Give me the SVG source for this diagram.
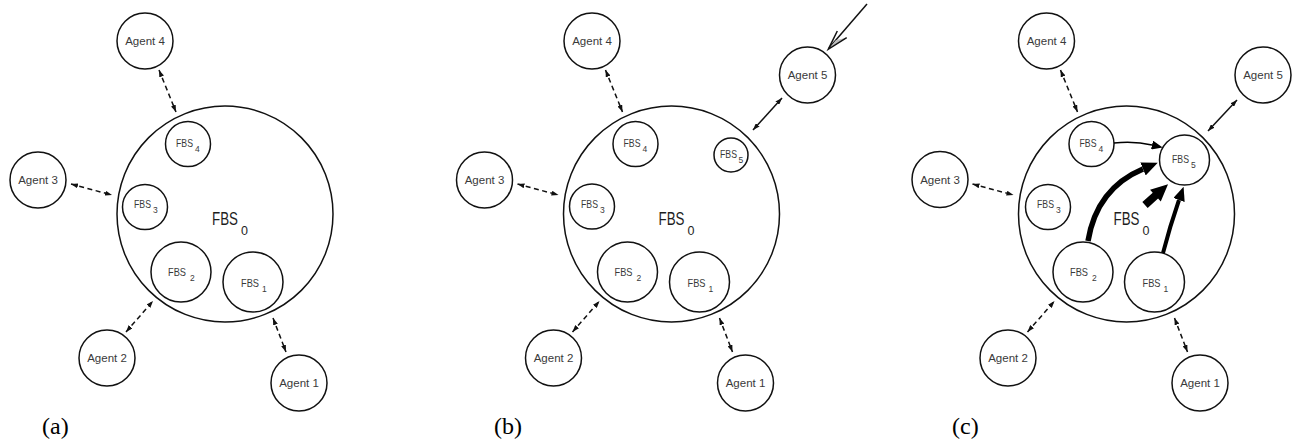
<svg xmlns="http://www.w3.org/2000/svg" width="1299" height="445" viewBox="0 0 1299 445">
  <style>
    .c { fill: #fff; stroke: #111; stroke-width: 1.5; }
    .ag { font-family: "Liberation Sans", Arial, sans-serif; font-size: 11.5px; fill: #3a3a3a; text-anchor: middle; }
    .fs { font-family: "Liberation Sans", Arial, sans-serif; font-size: 11.5px; fill: #3a3a3a; }
    .fsub { font-size: 8.5px; }
    .big { font-family: "Liberation Sans", Arial, sans-serif; font-size: 18px; fill: #1e1e1e; }
    .bigsub { font-size: 12.5px; }
    .lab { font-family: "Liberation Serif", "Times New Roman", serif; font-size: 24px; fill: #000; }
    .dash { fill: none; stroke: #111; stroke-width: 1.5; stroke-dasharray: 5 3.5; marker-start: url(#sm); marker-end: url(#sm); }
    .solid2 { fill: none; stroke: #111; stroke-width: 1.5; marker-start: url(#sm); marker-end: url(#sm); }
  </style>
  <defs>
    <!-- small double-ended arrowhead -->
    <marker id="sm" viewBox="0 0 7 5" refX="7" refY="2.5" markerWidth="7" markerHeight="5" markerUnits="userSpaceOnUse" orient="auto-start-reverse">
      <path d="M0,0 L7,2.5 L0,5 Z" fill="#111"/>
    </marker>
    <!-- heads placed with their base on the path end -->
    <marker id="hThin" viewBox="0 -4.5 11 9" refX="0" refY="0" markerWidth="11" markerHeight="9" markerUnits="userSpaceOnUse" orient="auto">
      <path d="M0,-4.5 L11,0 L0,4.5 Z" fill="#000"/>
    </marker>
    <marker id="hMid" viewBox="0 -6 14 12" refX="0" refY="0" markerWidth="14" markerHeight="12" markerUnits="userSpaceOnUse" orient="auto">
      <path d="M0,-6 L14,0 L0,6 Z" fill="#000"/>
    </marker>
    <marker id="hBig" viewBox="0 -7 16 14" refX="0" refY="0" markerWidth="16" markerHeight="14" markerUnits="userSpaceOnUse" orient="auto">
      <path d="M0,-7 L16,0 L0,7 Z" fill="#000"/>
    </marker>
  </defs>

  <rect width="1299" height="445" fill="#fff"/>

  <!-- ===== (a) ===== -->
  <g id="panel-a">
    <g id="a-connectors">
      <path class="dash" d="M159,70 L176,112"/>
      <path class="dash" d="M71,184 L112,195"/>
      <path class="dash" d="M126,332 L153,301"/>
      <path class="dash" d="M273,318 L286,352"/>
    </g>
    <g id="a-fbs0">
      <circle class="c" cx="225" cy="214" r="108"/>
      <text class="big" x="212" y="225"><tspan textLength="26" lengthAdjust="spacingAndGlyphs">FBS</tspan><tspan class="bigsub" dx="3" dy="10">0</tspan></text>
    </g>
    <g id="a-fbs4">
      <circle class="c" cx="188" cy="144" r="22.5"/>
      <text class="fs" x="176" y="147"><tspan textLength="17" lengthAdjust="spacingAndGlyphs">FBS</tspan><tspan class="fsub" dx="2" dy="5">4</tspan></text>
    </g>
    <g id="a-fbs3">
      <circle class="c" cx="145" cy="207" r="22.5"/>
      <text class="fs" x="134" y="208"><tspan textLength="17" lengthAdjust="spacingAndGlyphs">FBS</tspan><tspan class="fsub" dx="2" dy="5">3</tspan></text>
    </g>
    <g id="a-fbs2">
      <circle class="c" cx="181" cy="272" r="30"/>
      <text class="fs" x="168" y="276"><tspan textLength="18" lengthAdjust="spacingAndGlyphs">FBS</tspan><tspan class="fsub" dx="4" dy="5">2</tspan></text>
    </g>
    <g id="a-fbs1">
      <circle class="c" cx="253" cy="282" r="30"/>
      <text class="fs" x="241" y="287"><tspan textLength="18" lengthAdjust="spacingAndGlyphs">FBS</tspan><tspan class="fsub" dx="3" dy="5">1</tspan></text>
    </g>
    <g id="a-agent4">
      <circle class="c" cx="145" cy="41" r="28"/>
      <text class="ag" x="145" y="45">Agent 4</text>
    </g>
    <g id="a-agent3">
      <circle class="c" cx="38" cy="180" r="28"/>
      <text class="ag" x="38" y="184">Agent 3</text>
    </g>
    <g id="a-agent2">
      <circle class="c" cx="107" cy="358" r="28"/>
      <text class="ag" x="107" y="362">Agent 2</text>
    </g>
    <g id="a-agent1">
      <circle class="c" cx="299" cy="383" r="28"/>
      <text class="ag" x="299" y="387">Agent 1</text>
    </g>
    <text class="lab" x="42" y="434">(a)</text>
  </g>

  <!-- ===== (b) ===== -->
  <g id="panel-b">
    <g transform="translate(446.5,0)">
      <g id="b-connectors">
        <path class="dash" d="M159,70 L176,112"/>
        <path class="dash" d="M71,184 L112,195"/>
        <path class="dash" d="M126,332 L153,301"/>
        <path class="dash" d="M273,318 L286,352"/>
        <path class="solid2" d="M335.5,98 L306.5,130"/>
      </g>
      <g id="b-fbs0">
        <circle class="c" cx="225" cy="214" r="108"/>
        <text class="big" x="212" y="225"><tspan textLength="26" lengthAdjust="spacingAndGlyphs">FBS</tspan><tspan class="bigsub" dx="3" dy="10">0</tspan></text>
      </g>
      <g id="b-fbs4">
        <circle class="c" cx="189" cy="144" r="22.5"/>
        <text class="fs" x="177" y="147"><tspan textLength="17" lengthAdjust="spacingAndGlyphs">FBS</tspan><tspan class="fsub" dx="2" dy="5">4</tspan></text>
      </g>
      <g id="b-fbs5">
        <circle class="c" cx="284.5" cy="155" r="17"/>
        <text class="fs" x="273.5" y="158"><tspan textLength="17" lengthAdjust="spacingAndGlyphs">FBS</tspan><tspan class="fsub" dx="1.5" dy="5">5</tspan></text>
      </g>
      <g id="b-fbs3">
        <circle class="c" cx="145.5" cy="206.5" r="22.5"/>
        <text class="fs" x="134.5" y="208"><tspan textLength="17" lengthAdjust="spacingAndGlyphs">FBS</tspan><tspan class="fsub" dx="2" dy="5">3</tspan></text>
      </g>
      <g id="b-fbs2">
        <circle class="c" cx="181" cy="272" r="30"/>
        <text class="fs" x="168" y="276"><tspan textLength="18" lengthAdjust="spacingAndGlyphs">FBS</tspan><tspan class="fsub" dx="4" dy="5">2</tspan></text>
      </g>
      <g id="b-fbs1">
        <circle class="c" cx="253" cy="282" r="30"/>
        <text class="fs" x="241" y="287"><tspan textLength="18" lengthAdjust="spacingAndGlyphs">FBS</tspan><tspan class="fsub" dx="3" dy="5">1</tspan></text>
      </g>
      <g id="b-agent4">
        <circle class="c" cx="145.5" cy="41" r="28"/>
        <text class="ag" x="145.5" y="45">Agent 4</text>
      </g>
      <g id="b-agent5">
        <circle class="c" cx="361" cy="75" r="28"/>
        <text class="ag" x="361" y="79">Agent 5</text>
      </g>
      <g id="b-agent3">
        <circle class="c" cx="38" cy="180" r="28"/>
        <text class="ag" x="38" y="184">Agent 3</text>
      </g>
      <g id="b-agent2">
        <circle class="c" cx="107" cy="358" r="28"/>
        <text class="ag" x="107" y="362">Agent 2</text>
      </g>
      <g id="b-agent1">
        <circle class="c" cx="299" cy="383" r="28"/>
        <text class="ag" x="299" y="387">Agent 1</text>
      </g>
    </g>
    <!-- incoming arrow with open head -->
    <g id="b-incoming">
      <line x1="867" y1="4" x2="829" y2="48" stroke="#111" stroke-width="1.5"/>
      <path d="M828.3,49.3 L846.7,37.7 L836,40 Z" fill="#bdbdbd"/>
      <path d="M837.3,31 L828.3,49.3 L846.7,37.7" fill="none" stroke="#111" stroke-width="1.5" stroke-linejoin="miter"/>
    </g>
    <text class="lab" x="494" y="434">(b)</text>
  </g>

  <!-- ===== (c) ===== -->
  <g id="panel-c">
    <g transform="translate(901.5,0)">
      <g id="c-connectors">
        <path class="dash" d="M159,70 L176,112"/>
        <path class="dash" d="M71,184 L112,195"/>
        <path class="dash" d="M126,332 L153,301"/>
        <path class="dash" d="M273,318 L286,352"/>
        <path class="solid2" d="M335.5,100 L306.5,131"/>
      </g>
      <g id="c-fbs0">
        <circle class="c" cx="225" cy="214" r="108"/>
        <text class="big" x="212" y="225"><tspan textLength="26" lengthAdjust="spacingAndGlyphs">FBS</tspan><tspan class="bigsub" dx="3" dy="10">0</tspan></text>
      </g>
      <g id="c-fbs4">
        <circle class="c" cx="190" cy="144" r="22.5"/>
        <text class="fs" x="178" y="147"><tspan textLength="17" lengthAdjust="spacingAndGlyphs">FBS</tspan><tspan class="fsub" dx="2" dy="5">4</tspan></text>
      </g>
      <g id="c-fbs5">
        <circle class="c" cx="283" cy="160" r="25"/>
        <text class="fs" x="270.5" y="163"><tspan textLength="17" lengthAdjust="spacingAndGlyphs">FBS</tspan><tspan class="fsub" dx="2" dy="5">5</tspan></text>
      </g>
      <g id="c-fbs3">
        <circle class="c" cx="146.5" cy="207" r="22.5"/>
        <text class="fs" x="135.5" y="208"><tspan textLength="17" lengthAdjust="spacingAndGlyphs">FBS</tspan><tspan class="fsub" dx="2" dy="5">3</tspan></text>
      </g>
      <g id="c-fbs2">
        <circle class="c" cx="181.5" cy="272" r="30"/>
        <text class="fs" x="168.5" y="276"><tspan textLength="18" lengthAdjust="spacingAndGlyphs">FBS</tspan><tspan class="fsub" dx="4" dy="5">2</tspan></text>
      </g>
      <g id="c-fbs1">
        <circle class="c" cx="253" cy="282" r="30"/>
        <text class="fs" x="241" y="287"><tspan textLength="18" lengthAdjust="spacingAndGlyphs">FBS</tspan><tspan class="fsub" dx="3" dy="5">1</tspan></text>
      </g>
      <g id="c-agent4">
        <circle class="c" cx="145" cy="41" r="28"/>
        <text class="ag" x="145" y="45">Agent 4</text>
      </g>
      <g id="c-agent5">
        <circle class="c" cx="361.5" cy="75" r="28"/>
        <text class="ag" x="361.5" y="79">Agent 5</text>
      </g>
      <g id="c-agent3">
        <circle class="c" cx="38.5" cy="179.5" r="28"/>
        <text class="ag" x="38.5" y="183.5">Agent 3</text>
      </g>
      <g id="c-agent2">
        <circle class="c" cx="106.5" cy="358" r="28"/>
        <text class="ag" x="106.5" y="362">Agent 2</text>
      </g>
      <g id="c-agent1">
        <circle class="c" cx="298.5" cy="383" r="28"/>
        <text class="ag" x="298.5" y="387">Agent 1</text>
      </g>
      <!-- merges into FBS5 -->
      <g id="c-merge">
        <path d="M212.5,143 Q233.5,141 250.5,145" fill="none" stroke="#000" stroke-width="1.5" marker-end="url(#hThin)"/>
        <path d="M186.5,241 C192.5,205 210.5,182 241.5,169" fill="none" stroke="#000" stroke-width="5.5" marker-end="url(#hBig)"/>
        <path d="M261.5,253 Q268.5,226 277.5,200" fill="none" stroke="#000" stroke-width="4" marker-end="url(#hMid)"/>
        <polygon transform="translate(243.5,205) rotate(-42)" points="0,-4 14,-4 14,-8 31,0 14,8 14,4 0,4" fill="#000"/>
      </g>
    </g>
    <text class="lab" x="952" y="434">(c)</text>
  </g>
</svg>
